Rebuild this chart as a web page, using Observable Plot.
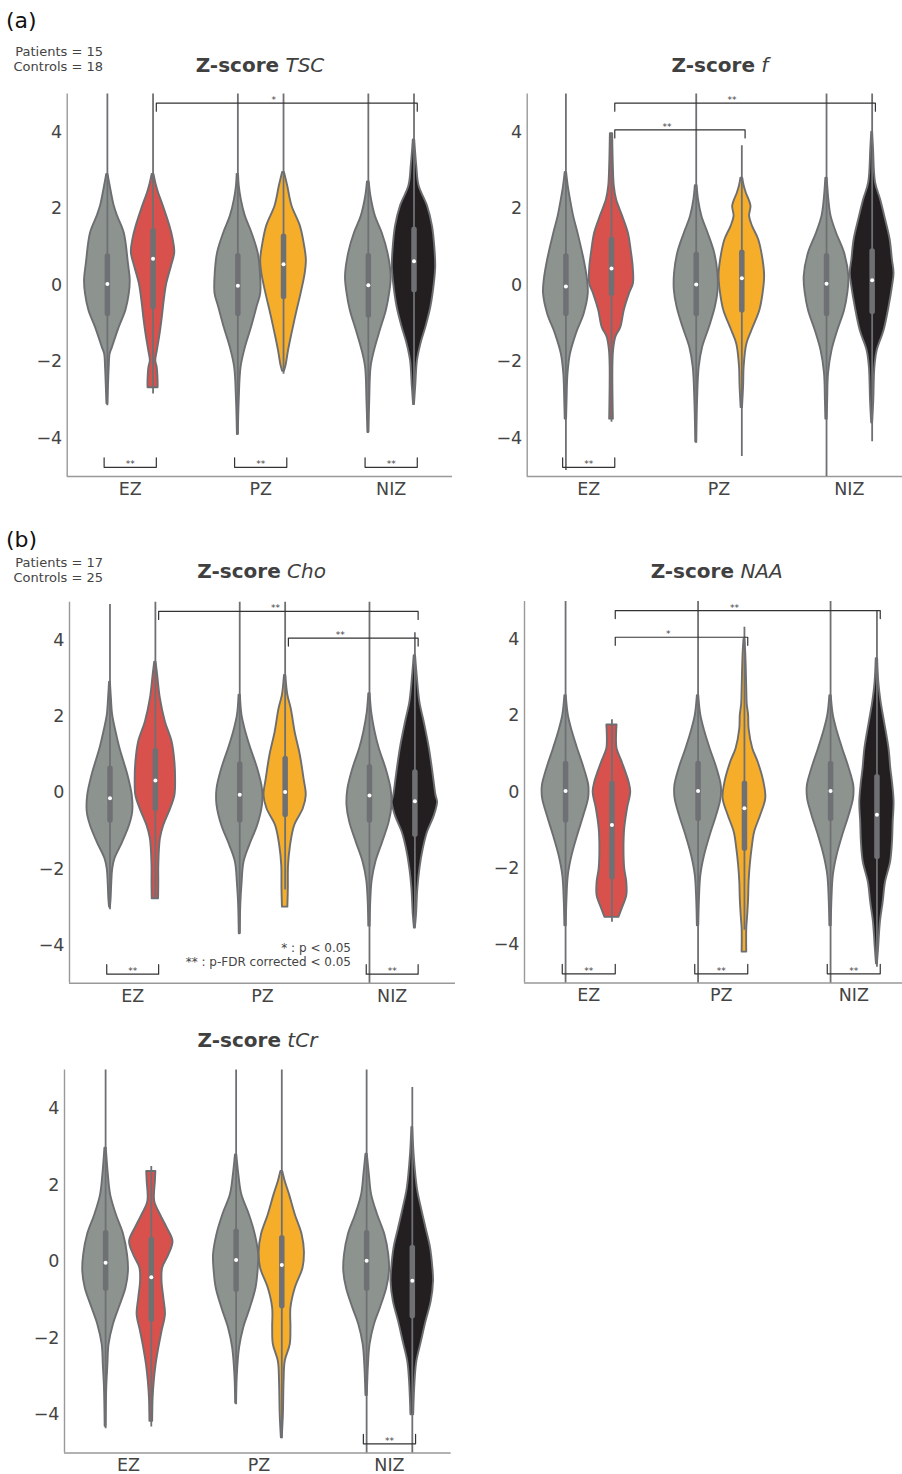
<!DOCTYPE html>
<html>
<head>
<meta charset="utf-8">
<script src="https://cdn.jsdelivr.net/npm/d3@7"></script>
<script src="https://cdn.jsdelivr.net/npm/@observablehq/plot@0.6"></script>
<style>
  html, body { margin: 0; padding: 0; background: #fff; overflow: hidden; }
  #page { position: relative; width: 902px; height: 1474px; overflow: hidden; font-family: "DejaVu Sans", sans-serif; }
  .abs { position: absolute; white-space: nowrap; }
  .title { font-size: 20px; color: #404040; line-height: 20px; transform: translateX(-50%); }
  .title b { font-weight: bold; }
  .title i { font-style: italic; font-weight: normal; }
  .tag { font-size: 22px; color: #111; line-height: 22px; }
  .count { font-size: 13px; color: #444; line-height: 14.7px; text-align: right; width: 103px; left: 0; }
  .legend { font-size: 12px; color: #444; line-height: 14px; text-align: right; }
  svg.plot { max-width: none !important; }
</style>
</head>
<body>
<div id="page"></div>
<script>
// ---------- categories & ticks ----------
const groups = ["EZ", "PZ", "NIZ"];
const yTicks = [-4, -2, 0, 2, 4];
const yTickLabels = ["−4", "−2", "0", "2", "4"];

// violin order in every panel: EZ control, EZ patient, PZ control, PZ patient, NIZ control, NIZ patient
const violinOrder = [["EZ","control"],["EZ","patient"],["PZ","control"],["PZ","patient"],["NIZ","control"],["NIZ","patient"]];

// ---------- Z-score TSC ----------
// box stats: [q1, median, q3, whiskerLow, whiskerHigh]
const tscBoxes = [
  [-0.75, 0.03, 0.75, -3.15, 6],
  [-0.57, 0.69, 1.41, -2.84, 6],
  [-0.75, -0.01, 0.76, -3.9, 6],
  [-0.31, 0.55, 1.27, -2.33, 6],
  [-0.79, 0.00, 0.76, -3.85, 6],
  [-0.13, 0.63, 1.45, -3.12, 6]
];
// density profiles: [z, relative half-width]
const tscEZc = [[-3.1,0.02],[-2.6,0.05],[-2.15,0.08],[-1.8,0.12],[-1.63,0.22],[-1.1,0.52],[-0.66,0.81],[-0.22,0.96],[0.13,1.0],[0.57,0.92],[1.36,0.74],[1.8,0.45],[2.07,0.3],[2.6,0.12],[2.9,0.03]];
const tscEZp = [[-2.68,0.22],[-2.5,0.22],[-2.15,0.18],[-1.98,0.12],[-1.71,0.19],[-1.27,0.31],[-0.92,0.39],[-0.4,0.49],[0.04,0.6],[0.48,0.8],[0.85,0.95],[1.2,0.88],[1.54,0.74],[2.07,0.45],[2.4,0.25],[2.6,0.15],[2.9,0.04]];
const tscPZc = [[-3.9,0.02],[-3.0,0.06],[-2.15,0.14],[-1.63,0.33],[-1.1,0.6],[-0.57,0.84],[-0.22,1.0],[0.31,0.99],[0.84,0.89],[1.36,0.62],[1.8,0.33],[2.24,0.15],[2.6,0.06],[2.9,0.03]];
const tscPZp = [[-2.25,0.04],[-2.07,0.12],[-1.71,0.22],[-1.27,0.37],[-0.75,0.56],[-0.22,0.77],[0.31,0.95],[0.66,1.0],[1.0,0.93],[1.54,0.74],[2.07,0.37],[2.6,0.18],[2.95,0.04]];
const tscNIZc = [[-3.85,0.02],[-3.03,0.06],[-2.15,0.12],[-1.71,0.27],[-1.19,0.52],[-0.66,0.79],[-0.22,0.93],[0.22,1.0],[0.84,0.86],[1.36,0.61],[1.8,0.31],[2.3,0.12],[2.7,0.04]];
const tscNIZp = [[-3.12,0.02],[-2.6,0.08],[-1.98,0.15],[-1.54,0.3],[-1.1,0.52],[-0.57,0.74],[0.04,0.89],[0.48,0.95],[0.92,0.92],[1.54,0.81],[2.07,0.59],[2.6,0.22],[3.12,0.12],[3.8,0.03]];
const tscTop = [{from: "EZ", to: "NIZ", level: 0, label: "*"}];
const tscBottom = [{group: "EZ", label: "**"}, {group: "PZ", label: "**"}, {group: "NIZ", label: "**"}];

// ---------- Z-score f ----------
const fBoxes = [
  [-0.75, -0.03, 0.75, -4.84, 6],
  [-0.22, 0.44, 1.19, -3.58, 3.96],
  [-0.75, 0.02, 0.79, -4.13, 6],
  [-0.66, 0.18, 0.85, -4.48, 3.65],
  [-0.75, 0.04, 0.76, -6, 6],
  [-0.70, 0.13, 0.88, -4.09, 6]
];
const fEZc = [[-3.5,0.03],[-3.03,0.05],[-2.33,0.09],[-1.8,0.2],[-1.27,0.46],[-0.75,0.8],[-0.22,0.98],[0.13,0.95],[0.66,0.8],[1.36,0.53],[1.8,0.34],[2.24,0.2],[2.6,0.1],[2.95,0.03]];
const fEZp = [[-3.5,0.08],[-2.15,0.06],[-1.71,0.09],[-1.36,0.19],[-1.1,0.41],[-0.66,0.56],[-0.22,0.79],[0.04,0.96],[0.48,0.95],[0.92,0.86],[1.36,0.74],[1.8,0.49],[2.24,0.22],[2.6,0.12],[3.12,0.08],[3.96,0.05]];
const fPZc = [[-4.1,0.02],[-3.0,0.06],[-2.15,0.13],[-1.63,0.28],[-1.1,0.58],[-0.57,0.84],[-0.13,0.96],[0.31,0.95],[0.84,0.81],[1.36,0.52],[1.8,0.25],[2.24,0.1],[2.6,0.04]];
const fPZp = [[-3.2,0.03],[-2.6,0.08],[-2.15,0.1],[-1.54,0.22],[-1.19,0.44],[-0.66,0.79],[-0.22,0.93],[0.22,1.0],[0.66,0.93],[1.19,0.74],[1.54,0.47],[1.8,0.34],[2.07,0.4],[2.42,0.19],[2.6,0.1],[2.8,0.04]];
const fNIZc = [[-3.5,0.03],[-3.0,0.05],[-2.3,0.09],[-1.71,0.24],[-1.19,0.49],[-0.66,0.79],[-0.22,0.93],[0.22,0.98],[0.84,0.79],[1.36,0.44],[1.8,0.2],[2.24,0.1],[2.8,0.03]];
const fNIZp = [[-3.6,0.02],[-3.03,0.07],[-2.15,0.12],[-1.71,0.22],[-1.19,0.52],[-0.57,0.74],[-0.04,0.89],[0.31,0.96],[0.66,0.89],[1.19,0.79],[1.71,0.59],[2.24,0.37],[2.68,0.15],[3.56,0.06],[4.0,0.02]];
const fTop = [{from: "EZ", to: "NIZ", level: 0, label: "**"}, {from: "EZ", to: "PZ", level: 1, label: "**"}];
const fBottom = [{group: "EZ", label: "**"}];

// ---------- Z-score Cho ----------
const choBoxes = [
  [-0.73, -0.14, 0.63, -3.07, 4.94],
  [-0.42, 0.32, 1.09, -2.78, 6],
  [-0.73, -0.05, 0.74, -3.7, 6],
  [-0.58, 0.02, 0.89, -2.55, 6],
  [-0.73, -0.07, 0.67, -6, 6],
  [-1.10, -0.22, 0.53, -3.55, 4.2]
];
const choEZc = [[-3.0,0.02],[-2.78,0.05],[-2.35,0.08],[-2.0,0.12],[-1.73,0.22],[-1.3,0.56],[-0.86,0.86],[-0.51,1.0],[-0.07,0.98],[0.46,0.79],[1.16,0.44],[1.59,0.27],[2.03,0.12],[2.5,0.06],[2.9,0.02]];
const choEZp = [[-2.78,0.14],[-2.35,0.15],[-1.91,0.15],[-1.21,0.22],[-0.86,0.37],[-0.42,0.67],[-0.07,0.86],[0.37,0.89],[0.8,0.86],[1.33,0.74],[1.86,0.44],[2.47,0.22],[3.08,0.1],[3.43,0.03]];
const choPZc = [[-3.7,0.02],[-2.9,0.05],[-2.4,0.1],[-1.82,0.19],[-1.38,0.44],[-0.86,0.79],[-0.33,1.0],[0.1,1.0],[0.63,0.79],[1.16,0.49],[1.59,0.27],[2.03,0.1],[2.56,0.03]];
const choPZp = [[-3.0,0.12],[-2.52,0.14],[-1.91,0.15],[-1.38,0.24],[-0.86,0.42],[-0.42,0.8],[-0.07,0.93],[0.37,0.83],[0.98,0.67],[1.59,0.44],[2.2,0.27],[2.56,0.12],[3.08,0.03]];
const choNIZc = [[-3.5,0.03],[-2.8,0.06],[-2.3,0.12],[-1.82,0.28],[-1.3,0.58],[-0.77,0.87],[-0.33,0.99],[0.1,0.95],[0.63,0.73],[1.16,0.43],[1.59,0.25],[2.1,0.1],[2.6,0.03]];
const choNIZp = [[-3.55,0.02],[-3.22,0.07],[-2.52,0.13],[-2.0,0.22],[-1.47,0.37],[-1.03,0.56],[-0.6,0.86],[-0.25,1.0],[-0.07,0.93],[0.46,0.81],[1.16,0.64],[1.86,0.41],[2.38,0.22],[3.08,0.1],[3.6,0.03]];
const choTop = [{from: "EZ", to: "NIZ", level: 0, label: "**"}, {from: "PZ", to: "NIZ", level: 1, label: "**"}];
const choBottom = [{group: "EZ", label: "**"}, {group: "NIZ", label: "**"}];

// ---------- Z-score NAA ----------
const naaBoxes = [
  [-0.74, 0.03, 0.74, -6, 6],
  [-2.23, -0.86, 0.22, -3.41, 1.9],
  [-0.70, 0.03, 0.74, -6, 6],
  [-1.48, -0.42, 0.22, -3.62, 4.32],
  [-0.70, 0.03, 0.74, -6, 6],
  [-1.70, -0.59, 0.39, -4.59, 4.74]
];
const naaEZc = [[-3.5,0.03],[-2.8,0.06],[-2.18,0.12],[-1.66,0.28],[-1.14,0.52],[-0.61,0.79],[-0.17,0.99],[0.17,1.0],[0.61,0.81],[1.14,0.52],[1.57,0.3],[2.01,0.12],[2.53,0.03]];
const naaEZp = [[-3.28,0.3],[-3.06,0.44],[-2.71,0.64],[-2.36,0.64],[-2.0,0.55],[-1.48,0.52],[-0.96,0.55],[-0.44,0.67],[0.0,0.81],[0.26,0.74],[0.79,0.44],[1.14,0.22],[1.5,0.2],[1.76,0.22]];
const naaPZc = [[-3.5,0.03],[-2.8,0.06],[-2.18,0.12],[-1.66,0.28],[-1.14,0.52],[-0.61,0.8],[-0.17,0.99],[0.17,1.0],[0.61,0.82],[1.14,0.52],[1.57,0.3],[2.01,0.12],[2.53,0.03]];
const naaPZp = [[-4.19,0.1],[-3.58,0.1],[-3.23,0.14],[-2.79,0.18],[-2.36,0.2],[-1.92,0.25],[-1.48,0.33],[-1.05,0.44],[-0.61,0.7],[-0.17,0.92],[0.26,0.84],[0.79,0.59],[1.14,0.36],[1.66,0.2],[2.01,0.18],[2.3,0.12],[2.71,0.1],[3.58,0.06],[4.0,0.02]];
const naaNIZc = [[-3.5,0.03],[-2.8,0.06],[-2.18,0.12],[-1.66,0.28],[-1.14,0.52],[-0.61,0.8],[-0.17,0.99],[0.17,1.0],[0.61,0.81],[1.14,0.52],[1.57,0.3],[2.01,0.12],[2.53,0.03]];
const naaNIZp = [[-4.5,0.02],[-4.1,0.07],[-3.41,0.15],[-2.88,0.27],[-2.36,0.37],[-1.83,0.59],[-1.31,0.67],[-0.79,0.7],[-0.26,0.74],[0.26,0.67],[0.61,0.6],[1.14,0.52],[1.83,0.33],[2.36,0.18],[2.88,0.08],[3.5,0.03]];
const naaTop = [{from: "EZ", to: "NIZ", level: 0, label: "**"}, {from: "EZ", to: "PZ", level: 1, label: "*"}];
const naaBottom = [{group: "EZ", label: "**"}, {group: "PZ", label: "**"}, {group: "NIZ", label: "**"}];

// ---------- Z-score tCr ----------
const tcrBoxes = [
  [-0.71, -0.03, 0.74, -4.37, 6],
  [-1.52, -0.41, 0.57, -4.32, 2.48],
  [-0.74, 0.04, 0.78, -3.74, 6],
  [-1.17, -0.09, 0.61, -4.63, 6],
  [-0.71, 0.02, 0.74, -6, 6],
  [-1.43, -0.50, 0.35, -6, 4.54]
];
const tcrEZc = [[-4.3,0.02],[-3.3,0.05],[-2.7,0.1],[-2.17,0.15],[-1.65,0.34],[-1.22,0.59],[-0.7,0.89],[-0.26,1.0],[0.17,0.96],[0.7,0.79],[1.22,0.47],[1.74,0.22],[2.26,0.12],[2.96,0.03]];
const tcrEZp = [[-4.17,0.06],[-3.57,0.08],[-3.13,0.13],[-2.7,0.21],[-2.26,0.33],[-1.83,0.47],[-1.39,0.62],[-0.96,0.55],[-0.52,0.47],[-0.17,0.5],[0.17,0.77],[0.52,0.95],[0.87,0.7],[1.22,0.4],[1.57,0.15],[2.09,0.18],[2.35,0.2]];
const tcrPZc = [[-3.7,0.02],[-3.0,0.05],[-2.26,0.15],[-1.74,0.33],[-1.22,0.62],[-0.7,0.87],[-0.26,0.96],[0.17,0.99],[0.7,0.84],[1.22,0.58],[1.74,0.25],[2.26,0.12],[2.78,0.03]];
const tcrPZp = [[-4.6,0.02],[-4.0,0.07],[-3.13,0.1],[-2.61,0.15],[-2.17,0.37],[-1.74,0.4],[-1.22,0.4],[-0.7,0.59],[-0.17,0.93],[0.26,0.99],[0.7,0.89],[1.22,0.59],[1.74,0.34],[2.09,0.15],[2.35,0.04]];
const tcrNIZc = [[-3.5,0.03],[-2.7,0.08],[-2.17,0.15],[-1.65,0.34],[-1.22,0.6],[-0.7,0.88],[-0.26,1.0],[0.17,0.97],[0.7,0.8],[1.22,0.48],[1.74,0.22],[2.26,0.12],[2.8,0.03]];
const tcrNIZp = [[-4.0,0.06],[-3.13,0.12],[-2.61,0.2],[-2.09,0.4],[-1.57,0.6],[-1.04,0.83],[-0.52,0.93],[-0.17,0.9],[0.35,0.8],[0.87,0.6],[1.39,0.4],[1.91,0.22],[2.78,0.08],[3.5,0.02]];
const tcrTop = [];
const tcrBottom = [{group: "NIZ", label: "**"}];

// ---------- styling ----------
const controlColor = "#8d9490";
const patientColors = {EZ: "#d9514c", PZ: "#f6ae2a", NIZ: "#231f20"};
const outlineColor = "#6d6e71";
const boxColor = "#6f7073";
const spineColor = "#999999";
const bracketColor = "#333333";

const page = document.getElementById("page");

function drawPanel(cfg) {
  const off = 0.175, half = 0.175, bOff = 0.2, starShift = 0.1;
  const cxOf = (g, c) => groups.indexOf(g) + (c === "control" ? -off : off);

  const areaRows = [];
  cfg.shapes.forEach((shape, i) => {
    const [g, c] = violinOrder[i];
    const cx = cxOf(g, c);
    const fill = c === "control" ? controlColor : patientColors[g];
    shape.forEach(([y, w]) => areaRows.push({id: i, y, x1: cx - w * half, x2: cx + w * half, fill}));
  });

  const boxRows = cfg.boxes.map(([q1, med, q3, lo, hi], i) => {
    const [g, c] = violinOrder[i];
    return {cx: cxOf(g, c), q1, med, q3, lo: Math.max(lo, -5), hi: Math.min(hi, 5)};
  });

  const pts = [], labels = [];
  cfg.top.forEach((b, k) => {
    const x1 = groups.indexOf(b.from) + bOff, x2 = groups.indexOf(b.to) + bOff;
    const yl = b.level === 0 ? 4.76 : 4.06, ye = yl - 0.21;
    [[x1, ye], [x1, yl], [x2, yl], [x2, ye]].forEach(([x, y]) => pts.push({k: "t" + k, x, y}));
    labels.push({x: (x1 + x2) / 2 - starShift, y: yl, label: b.label, dy: -5});
  });
  cfg.bottom.forEach((b, k) => {
    const gi = groups.indexOf(b.group);
    const x1 = gi - bOff, x2 = gi + bOff, yl = -4.76, ye = -4.51;
    [[x1, ye], [x1, yl], [x2, yl], [x2, ye]].forEach(([x, y]) => pts.push({k: "b" + k, x, y}));
    labels.push({x: (x1 + x2) / 2, y: yl, label: b.label, dy: -3.6});
  });

  const chart = Plot.plot({
    width: cfg.width,
    height: cfg.height,
    marginLeft: cfg.ml, marginRight: cfg.mr, marginTop: cfg.mt, marginBottom: cfg.mb,
    x: {domain: cfg.xDomain},
    y: {domain: [-5, 5]},
    color: {type: "identity"},
    style: {fontFamily: "DejaVu Sans", color: "#444", background: "transparent", overflow: "visible", maxWidth: "none"},
    marks: [
      Plot.ruleX([cfg.xDomain[0]], {stroke: spineColor, strokeWidth: 1.4}),
      Plot.ruleY([-5], {stroke: spineColor, strokeWidth: 1.4}),
      Plot.areaX(areaRows, {y: "y", x1: "x1", x2: "x2", z: "id", fill: "fill", stroke: outlineColor, strokeWidth: 1.9, curve: "catmull-rom"}),
      Plot.ruleX(boxRows, {x: "cx", y1: "lo", y2: "hi", stroke: boxColor, strokeWidth: 1.8}),
      Plot.ruleX(boxRows, {x: "cx", y1: "q1", y2: "q3", stroke: boxColor, strokeWidth: 5.5, strokeLinecap: "round"}),
      Plot.dot(boxRows, {x: "cx", y: "med", r: 2, fill: "white"}),
      Plot.line(pts, {x: "x", y: "y", z: "k", stroke: bracketColor, strokeWidth: 1.2}),
      Plot.text(labels, {x: "x", y: "y", text: "label", fontSize: 9, fill: "#444"}),
      Plot.axisX({ticks: [0, 1, 2], tickFormat: d => groups[d], tickSize: 0, tickPadding: 6, fontSize: 17.5, label: null}),
      Plot.axisY({ticks: yTicks, tickFormat: d => yTickLabels[yTicks.indexOf(d)], tickSize: 0, tickPadding: 5, fontSize: 17.5, label: null})
    ]
  });
  chart.style.maxWidth = "none";
  chart.style.width = cfg.width + "px";
  chart.style.height = cfg.height + "px";
  // apply per-label vertical offsets
  const texts = chart.querySelectorAll("g[aria-label='text'] text");
  texts.forEach((t, i) => {
    const d = labels[i];
    if (d) t.setAttribute("y", +t.getAttribute("y") + d.dy);
  });

  const holder = document.createElement("div");
  holder.className = "abs";
  holder.style.left = cfg.left + "px";
  holder.style.top = cfg.top0 + "px";
  holder.style.width = cfg.width + "px";
  holder.style.height = cfg.height + "px";
  holder.appendChild(chart);
  page.appendChild(holder);
}

function addHTML(cls, html, left, top, extra) {
  const d = document.createElement("div");
  d.className = "abs " + cls;
  d.innerHTML = html;
  d.style.left = left + "px";
  d.style.top = top + "px";
  if (extra) Object.assign(d.style, extra);
  page.appendChild(d);
}

drawPanel({left: 0, top0: 0, width: 460, height: 505, ml: 66.7, mr: 8, mt: 93.5, mb: 29, xDomain: [-0.483, 2.47],
  shapes: [tscEZc, tscEZp, tscPZc, tscPZp, tscNIZc, tscNIZp], boxes: tscBoxes, top: tscTop, bottom: tscBottom});
drawPanel({left: 460, top0: 0, width: 460, height: 505, ml: 66.7, mr: 6, mt: 93.5, mb: 29, xDomain: [-0.472, 2.5],
  shapes: [fEZc, fEZp, fPZc, fPZp, fNIZc, fNIZp], boxes: fBoxes, top: fTop, bottom: fBottom});
drawPanel({left: 0, top0: 515, width: 460, height: 495, ml: 69, mr: 5, mt: 86.8, mb: 27.2, xDomain: [-0.487, 2.488],
  shapes: [choEZc, choEZp, choPZc, choPZp, choNIZc, choNIZp], boxes: choBoxes, top: choTop, bottom: choBottom});
drawPanel({left: 460, top0: 515, width: 462, height: 495, ml: 64, mr: 2.5, mt: 85.9, mb: 27.5, xDomain: [-0.485, 2.5],
  shapes: [naaEZc, naaEZp, naaPZc, naaPZp, naaNIZc, naaNIZp], boxes: naaBoxes, top: naaTop, bottom: naaBottom});
drawPanel({left: 0, top0: 1015, width: 460, height: 459, ml: 64, mr: 9.3, mt: 54.5, mb: 21.5, xDomain: [-0.49, 2.473],
  shapes: [tcrEZc, tcrEZp, tcrPZc, tcrPZp, tcrNIZc, tcrNIZp], boxes: tcrBoxes, top: tcrTop, bottom: tcrBottom});

// ---------- text ----------
addHTML("tag", "(a)", 6, 29 - 18.6);
addHTML("tag", "(b)", 6, 547.5 - 18.6);
addHTML("count", "Patients = 15<br>Controls = 18", 0, 56 - 11);
addHTML("count", "Patients = 17<br>Controls = 25", 0, 567.3 - 11);
addHTML("title", "<b>Z-score</b> <i>TSC</i>", 260, 71.7 - 17);
addHTML("title", "<b>Z-score</b> <i>f</i>", 720, 71.7 - 17);
addHTML("title", "<b>Z-score</b> <i>Cho</i>", 261.7, 578.3 - 17);
addHTML("title", "<b>Z-score</b> <i>NAA</i>", 716.7, 578.3 - 17);
addHTML("title", "<b>Z-score</b> <i>tCr</i>", 257.5, 1047.3 - 17);
addHTML("legend", "* : p &lt; 0.05<br>** : p-FDR corrected &lt; 0.05", 0, 951.5 - 10.2, {width: "351px", left: "0px"});
</script>
</body>
</html>
